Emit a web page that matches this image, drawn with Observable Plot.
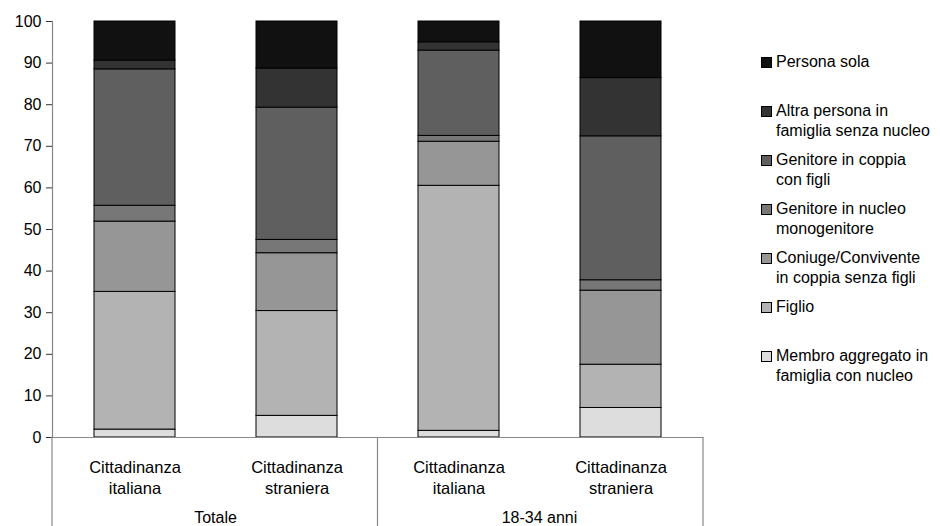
<!DOCTYPE html>
<html>
<head>
<meta charset="utf-8">
<script src="https://cdn.jsdelivr.net/npm/d3@7"></script>
<script src="https://cdn.jsdelivr.net/npm/@observablehq/plot@0.6"></script>
<style>
  body { margin: 0; background: #fff; font-family: "Liberation Sans", Arial, sans-serif; }
  #wrap { position: relative; width: 940px; height: 526px; }
  #legend { position: absolute; left: 761px; top: 52px; font-size: 16px; line-height: 20px; color: #000; }
  .item { display: flex; align-items: flex-start; height: 49px; }
  .sw { width: 9px; height: 9px; border: 1px solid #000; margin-top: 5px; margin-right: 4px; flex: none; }
</style>
</head>
<body>
<div id="wrap"><div id="legend"></div></div>
<script>
// Categories (x), group labels, tick labels
const groups = ["Totale", "Totale", "18-34 anni", "18-34 anni"];
const citizenship = ["Cittadinanza\nitaliana", "Cittadinanza\nstraniera", "Cittadinanza\nitaliana", "Cittadinanza\nstraniera"];
const groupNames = ["Totale", "18-34 anni"];
const yTicks = [0, 10, 20, 30, 40, 50, 60, 70, 80, 90, 100];

// Series (bottom to top of the stack)
const series = [
  "Membro aggregato in famiglia con nucleo",
  "Figlio",
  "Coniuge/Convivente in coppia senza figli",
  "Genitore in nucleo monogenitore",
  "Genitore in coppia con figli",
  "Altra persona in famiglia senza nucleo",
  "Persona sola"
];
const legendLabels = [
  "Membro aggregato in\nfamiglia con nucleo",
  "Figlio",
  "Coniuge/Convivente\nin coppia senza figli",
  "Genitore in nucleo\nmonogenitore",
  "Genitore in coppia\ncon figli",
  "Altra persona in\nfamiglia senza nucleo",
  "Persona sola"
];
const colors = ["#dddddd", "#b3b3b3", "#969696", "#777777", "#5f5f5f", "#333333", "#111111"];

// Values (%) per series, in category order
const membro      = [1.9, 5.2, 1.6, 7.1];
const figlio      = [33.1, 25.2, 58.9, 10.4];
const coniuge     = [16.9, 13.9, 10.6, 17.8];
const monogenit   = [3.8, 3.2, 1.4, 2.5];
const genCoppia   = [32.8, 31.8, 20.5, 34.6];
const altra       = [2.1, 9.4, 2.0, 14.0];
const personaSola = [9.4, 11.3, 5.0, 13.6];

const valuesBySeries = [membro, figlio, coniuge, monogenit, genCoppia, altra, personaSola];
const keys = groups.map((g, i) => g + "|" + citizenship[i]);

const rows = [];
series.forEach((s, si) => {
  keys.forEach((k, ci) => rows.push({key: k, series: s, value: valuesBySeries[si][ci]}));
});

const W = 940, H = 526;
const chart = Plot.plot({
  width: W,
  height: H,
  marginLeft: 52,
  marginRight: 237,
  marginTop: 21,
  marginBottom: 89,
  style: {fontFamily: "'Liberation Sans', Arial, sans-serif", fontSize: "16px", color: "#000", background: "#fff", overflow: "visible"},
  x: {domain: keys, paddingInner: 0.5, paddingOuter: 0.25, label: null},
  y: {domain: [0, 100], label: null},
  color: {domain: series, range: colors},
  marks: [
    Plot.barY(rows, {x: "key", y: "value", fill: "series", stroke: "#000", strokeWidth: 1, order: null}),
    Plot.ruleY([0], {stroke: "#888", strokeWidth: 1.2}),
    Plot.frame({anchor: "left", stroke: "#888", strokeWidth: 1.2}),
    Plot.axisY({ticks: yTicks, tickSize: 6, tickPadding: 5, fontSize: 16, stroke: "#333", fill: "#000", label: null}),
    Plot.axisX({tickSize: 0, tickPadding: 20, fontSize: 16.5, lineHeight: 1.3, fill: "#000", label: null,
      tickFormat: k => k.split("|")[1]})
  ]
});

document.getElementById("wrap").prepend(chart);

// Group separators and group labels positioned via Plot's x scale
const xs = chart.scale("x");
const ys = chart.scale("y");
const y0 = ys.apply(0);
const gap = xs.step - xs.bandwidth;
const svg = d3.select(chart);
const seps = [xs.range[0], xs.apply(keys[2]) - gap / 2, xs.range[1]];
svg.append("g").selectAll("line").data(seps).join("line")
  .attr("x1", d => d).attr("x2", d => d)
  .attr("y1", y0).attr("y2", H)
  .attr("stroke", "#888").attr("stroke-width", 1.2);
svg.append("g").selectAll("text").data(groupNames).join("text")
  .attr("x", g => {
    const ks = keys.filter(k => k.startsWith(g + "|"));
    return d3.mean(ks, k => xs.apply(k) + xs.bandwidth / 2);
  })
  .attr("y", y0 + 86)
  .attr("text-anchor", "middle")
  .attr("font-size", 16)
  .attr("fill", "#000")
  .text(g => g);

// Legend (top to bottom: reverse of stack order)
const legend = d3.select("#legend");
series.map((s, i) => i).reverse().forEach(i => {
  const item = legend.append("div").attr("class", "item");
  item.append("div").attr("class", "sw").style("background", colors[i]);
  item.append("div").html(legendLabels[i].split("\n").join("<br>"));
});
</script>
</body>
</html>
